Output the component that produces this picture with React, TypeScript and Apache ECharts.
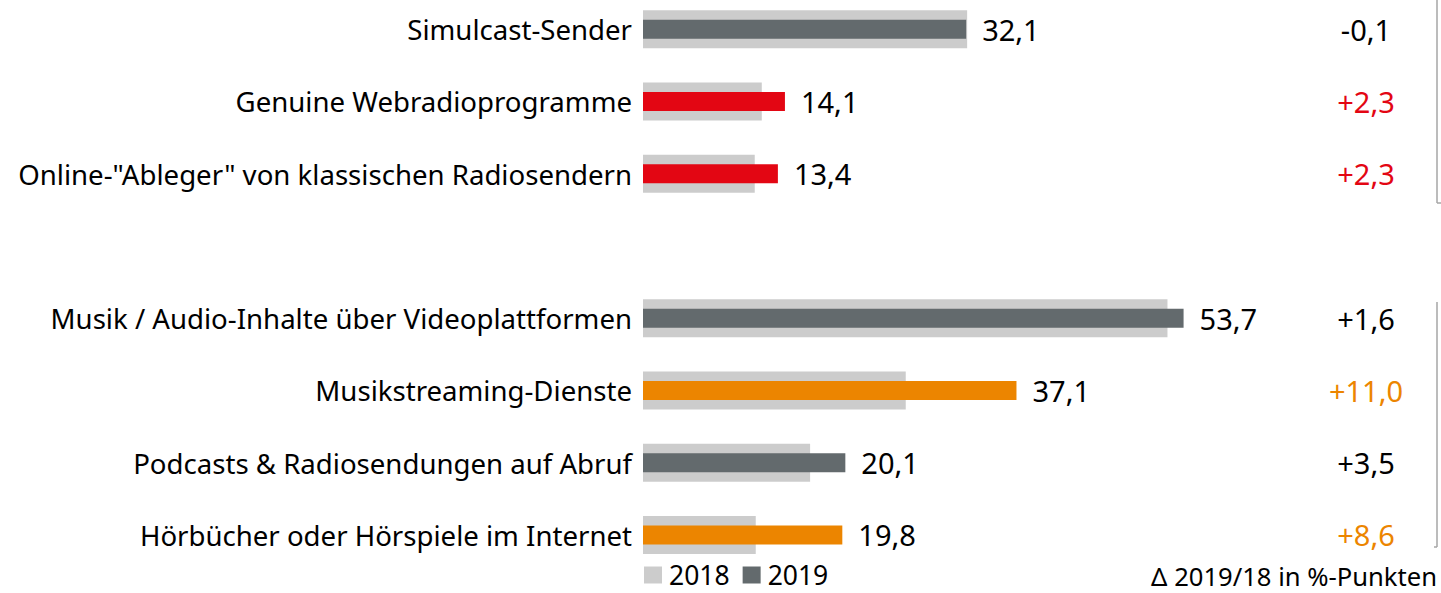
import React, { useEffect, useRef } from "react";
import * as echarts from "echarts";

const categories = [
  "Simulcast-Sender",
  "Genuine Webradioprogramme",
  'Online-"Ableger" von klassischen Radiosendern',
  "",
  "Musik / Audio-Inhalte über Videoplattformen",
  "Musikstreaming-Dienste",
  "Podcasts & Radiosendungen auf Abruf",
  "Hörbücher oder Hörspiele im Internet",
];
const values2018: (number | string)[] = [32.2, 11.8, 11.1, "-", 52.1, 26.1, 16.6, 11.2];
const values2019: (number | string)[] = [32.1, 14.1, 13.4, "-", 53.7, 37.1, 20.1, 19.8];
const deltaLabels = ["-0,1", "+2,3", "+2,3", "", "+1,6", "+11,0", "+3,5", "+8,6"];
const barColors2019 = ["#636a6d", "#e30613", "#e30613", "#636a6d", "#636a6d", "#ec8500", "#636a6d", "#ec8500"];
const deltaColorKeys = ["k", "r", "r", "k", "k", "o", "k", "o"];
const seriesNames = ["2018", "2019"];
const footnote = "Δ 2019/18 in %-Punkten";

const FONT = "Noto Sans";
const FS = 27.6;
const NFS = 29;
const SHIFT = 7; // chart div starts 7px above the page top

export default function App() {
  const ref = useRef<HTMLDivElement>(null);
  useEffect(() => {
    if (!ref.current) return;
    const chart = echarts.init(ref.current, undefined, { renderer: "svg" });
    const fmt = (v: number) => v.toFixed(1).replace(".", ",");
    chart.setOption({
      animation: false,
      textStyle: { fontFamily: FONT },
      grid: { left: 643, top: 0, width: 604, height: 578, containLabel: false },
      xAxis: {
        type: "value",
        min: 0,
        max: 60,
        show: false,
      },
      yAxis: [
        {
          type: "category",
          data: categories,
          inverse: true,
          axisLine: { show: false },
          axisTick: { show: false },
          axisLabel: { fontSize: FS, color: "#000", margin: 11, fontFamily: FONT },
        },
        {
          type: "category",
          data: categories,
          inverse: true,
          position: "right",
          axisLine: { show: false },
          axisTick: { show: false },
          axisLabel: {
            margin: 119,
            align: "center",
            formatter: (_v: string, i: number) => (deltaLabels[i] ? `{${deltaColorKeys[i]}|${deltaLabels[i]}}` : ""),
            rich: {
              k: { color: "#000", fontSize: NFS, fontFamily: FONT },
              r: { color: "#e30613", fontSize: NFS, fontFamily: FONT },
              o: { color: "#ec8500", fontSize: NFS, fontFamily: FONT },
            },
          },
        },
      ],
      legend: {
        left: 639,
        top: 556 + SHIFT,
        itemWidth: 18,
        itemHeight: 17,
        itemGap: 13,
        icon: "rect",
        textStyle: { fontSize: 26.5, lineHeight: 28, color: "#000", fontFamily: FONT, padding: [0, 0, 0, 2] },
        data: seriesNames,
      },
      series: [
        {
          name: seriesNames[0],
          type: "bar",
          yAxisIndex: 0,
          data: values2018,
          barWidth: 38,
          itemStyle: { color: "#cccccc" },
          z: 1,
        },
        {
          name: seriesNames[1],
          type: "bar",
          yAxisIndex: 1,
          barWidth: 19,
          itemStyle: { color: "#636a6d" },
          data: values2019.map((v, i) => ({ value: v, itemStyle: { color: barColors2019[i] } })),
          label: {
            show: true,
            position: "right",
            distance: 16,
            fontSize: NFS,
            color: "#000",
            fontFamily: FONT,
            formatter: (p: any) => fmt(p.value),
          },
          z: 3,
        },
      ],
      graphic: [
        { type: "line", shape: { x1: 1437, y1: 0, x2: 1437, y2: 203 + SHIFT }, style: { stroke: "#a6a6a6", lineWidth: 1.5 } },
        { type: "line", shape: { x1: 1437, y1: 203 + SHIFT, x2: 1441, y2: 203 + SHIFT }, style: { stroke: "#a6a6a6", lineWidth: 1.5 } },
        { type: "line", shape: { x1: 1437, y1: 302 + SHIFT, x2: 1437, y2: 547 + SHIFT }, style: { stroke: "#a6a6a6", lineWidth: 1.5 } },
        { type: "line", shape: { x1: 1434, y1: 547 + SHIFT, x2: 1437, y2: 547 + SHIFT }, style: { stroke: "#a6a6a6", lineWidth: 1.5 } },
        {
          type: "text",
          right: 4,
          top: 562 + SHIFT,
          style: { text: footnote, fontSize: 25.6, lineHeight: 28, fill: "#000", fontFamily: FONT },
        },
      ],
    });
    return () => chart.dispose();
  }, []);
  return <div ref={ref} style={{ width: 1441, height: 593 + SHIFT, position: "absolute", left: 0, top: -SHIFT }} />;
}
